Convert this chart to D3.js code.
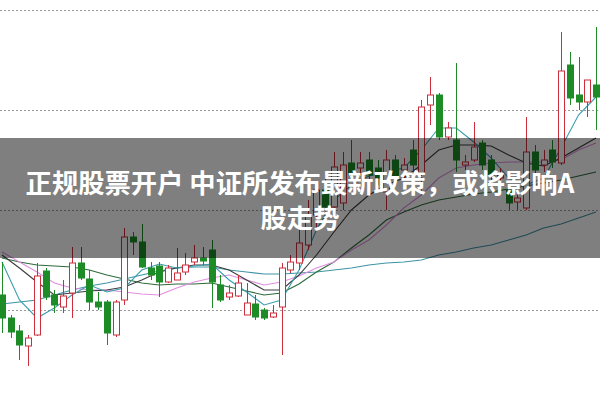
<!DOCTYPE html>
<html><head><meta charset="utf-8">
<script src="https://cdn.jsdelivr.net/npm/d3@7"></script>
<style>html,body{margin:0;padding:0;background:#fff;overflow:hidden}</style>
</head><body>
<svg id="c" width="600" height="399"></svg>
<script>
// Candle data (price units)
const openP  = [9.15,8.92,8.79,8.64,8.75,9.39,9.15,9.03,9.17,9.47,9.31,9.08,9.08,8.75,9.10,9.73,9.68,9.42,9.44,9.28,9.30,9.38,9.48,9.52,9.60,9.25,9.13,9.14,8.95,9.06,9.00,8.93,9.03,9.40,9.47,9.65,9.95,10.20,10.03,10.07,10.47,10.42,10.50,10.42,10.18,10.50,10.40,10.60,10.37,11.05,11.15,10.73,10.70,10.45,10.50,10.67,10.50,10.32,10.20,10.08,10.02,10.58,10.45,10.60,10.47,11.45,11.15,11.08,11.25];
const highP  = [9.48,8.95,8.85,8.75,9.47,9.42,9.20,9.30,9.63,9.63,9.40,9.18,9.10,9.10,9.82,9.78,9.86,9.48,9.48,9.45,9.62,9.57,9.65,9.63,9.70,9.35,9.25,9.35,9.27,9.15,9.02,9.05,9.47,9.55,9.80,10.10,10.27,10.35,10.58,10.58,10.70,10.58,10.58,10.50,10.60,10.55,10.52,10.70,11.10,11.33,11.17,10.88,11.47,10.55,10.88,10.70,10.55,10.42,10.25,10.17,10.93,10.65,10.60,10.70,11.78,11.58,11.53,11.30,11.83];
const lowP   = [8.77,8.72,8.50,8.44,8.74,9.10,8.97,8.97,8.92,9.30,9.00,9.00,8.65,8.73,9.05,9.55,9.42,9.30,9.13,9.27,9.30,9.35,9.45,9.45,9.02,9.08,9.10,9.13,8.95,8.90,8.90,8.92,8.55,9.37,9.40,9.60,9.80,9.98,10.02,10.00,10.30,10.35,10.30,10.25,10.00,10.25,10.30,10.38,10.15,10.85,10.70,10.70,10.38,10.40,10.48,10.40,10.30,10.25,10.00,10.00,10.00,10.35,10.38,10.42,10.45,11.05,11.00,10.93,10.80];
const closeP = [8.92,8.78,8.65,8.72,9.34,9.13,9.05,9.14,9.47,9.32,9.08,9.03,8.77,9.08,9.73,9.68,9.43,9.35,9.28,9.42,9.37,9.45,9.52,9.49,9.28,9.10,9.17,9.27,9.07,8.93,8.92,8.97,9.42,9.48,9.67,9.95,10.20,10.03,10.43,10.45,10.35,10.47,10.35,10.32,10.50,10.33,10.45,10.45,11.03,11.15,10.73,10.82,10.50,10.48,10.63,10.45,10.35,10.35,10.07,10.12,10.58,10.40,10.50,10.48,11.39,11.12,11.08,11.30,11.13];

// Moving-average lines, read at every second candle
const maIdx = [0,2,4,6,8,10,12,14,16,18,20,22,24,26,28,30,32,34,36,38,40,42,44,46,48,50,52,54,56,58,60,62,64,66,68];
const ma5  = [9.48,9.10,8.92,9.02,9.15,9.25,9.18,9.22,9.40,9.46,9.42,9.44,9.46,9.30,9.18,9.05,9.10,9.40,9.80,10.10,10.25,10.34,10.38,10.42,10.60,10.82,10.82,10.68,10.52,10.32,10.25,10.32,10.62,10.95,11.13];
const ma10 = [9.55,9.42,9.28,9.15,9.17,9.19,9.20,9.23,9.30,9.38,9.42,9.45,9.45,9.40,9.30,9.20,9.20,9.35,9.55,9.78,10.00,10.15,10.25,10.32,10.45,10.60,10.65,10.65,10.64,10.55,10.47,10.44,10.52,10.62,10.72];
const ma20 = [9.58,9.48,9.38,9.27,9.22,9.20,9.20,9.18,9.16,9.15,9.22,9.28,9.32,9.35,9.30,9.25,9.28,9.34,9.42,9.48,9.60,9.70,9.85,10.02,10.15,10.32,10.42,10.45,10.47,10.48,10.48,10.48,10.50,10.60,10.67];
const ma30 = [9.52,9.48,9.45,9.44,9.43,9.40,9.35,9.31,9.27,9.25,9.26,9.26,9.27,9.23,9.19,9.15,9.17,9.26,9.38,9.48,9.62,9.75,9.90,9.98,10.05,10.10,10.13,10.16,10.18,10.21,10.24,10.27,10.30,10.34,10.38];
const ma60 = [9.06,9.08,9.10,9.15,9.20,9.24,9.27,9.31,9.35,9.39,9.42,9.43,9.43,9.40,9.38,9.36,9.36,9.37,9.38,9.40,9.42,9.45,9.47,9.48,9.50,9.55,9.58,9.62,9.65,9.70,9.75,9.82,9.86,9.92,9.98];

const gridTicks = [9, 10, 11, 12];
const titleLines = ["正规股票开户 中证所发布最新政策，或将影响A", "股走势"];

const svg = d3.select("#c");
const W = 600, H = 399;
svg.append("rect").attr("width", W).attr("height", H).attr("fill", "#fff");

const n = openP.length;
const x = d3.scaleLinear().domain([0, n - 1]).range([2, 596]);
const y = d3.scaleLinear().domain([9, 12]).range([310, 10]);

// gridlines via axis
const yAxis = d3.axisLeft(y).tickValues(gridTicks).tickSize(-W).tickFormat("");
const g = svg.append("g").call(yAxis);
g.select(".domain").remove();
g.selectAll(".tick line").attr("stroke", "#9a9a9a").attr("stroke-dasharray", "2,2").attr("stroke-width", 1);

// MA lines
const maDefs = [
  {v: ma60, c: "#3f93a6"},
  {v: ma30, c: "#2d6b3a"},
  {v: ma20, c: "#e08ee0"},
  {v: ma10, c: "#3c3c3c"},
  {v: ma5,  c: "#3a9eb0"}
];
const line = d3.line().x(d => x(d[0])).y(d => y(d[1]));
maDefs.forEach(m => {
  svg.append("path")
    .datum(maIdx.map((i, k) => [i, m.v[k]]))
    .attr("fill", "none").attr("stroke", m.c).attr("stroke-width", 1.1)
    .attr("d", line);
});

// candles
const RED = "#cc2f3b", GREEN = "#1d8c27";
const cg = svg.append("g");
const bw = 6;
d3.range(n).forEach(i => {
  const up = closeP[i] >= openP[i];
  const col = up ? RED : GREEN;
  const cx = Math.round(x(i)) + 0.5;
  const top = y(Math.max(openP[i], closeP[i]));
  const bot = y(Math.min(openP[i], closeP[i]));
  cg.append("line").attr("x1", cx).attr("x2", cx)
    .attr("y1", y(highP[i])).attr("y2", top).attr("stroke", col).attr("stroke-width", 1);
  cg.append("line").attr("x1", cx).attr("x2", cx)
    .attr("y1", bot).attr("y2", y(lowP[i])).attr("stroke", col).attr("stroke-width", 1);
  cg.append("rect")
    .attr("x", cx - bw / 2).attr("y", top)
    .attr("width", bw).attr("height", Math.max(1, bot - top))
    .attr("fill", up ? "#fff" : GREEN)
    .attr("stroke", col).attr("stroke-width", 1);
});

// banner
svg.append("rect").attr("x", 0).attr("y", 138).attr("width", W).attr("height", 120)
  .attr("fill", "rgba(0,0,0,0.5)");
titleLines.forEach((t, k) => {
  svg.append("text").attr("x", 300).attr("y", 193 + k * 35).attr("text-anchor", "middle")
    .attr("font-family", "'Noto Sans CJK SC', 'Noto Sans', sans-serif")
    .attr("font-weight", "bold").attr("font-size", 26.3).attr("fill", "#fff")
    .text(t);
});
</script>
</body></html>
